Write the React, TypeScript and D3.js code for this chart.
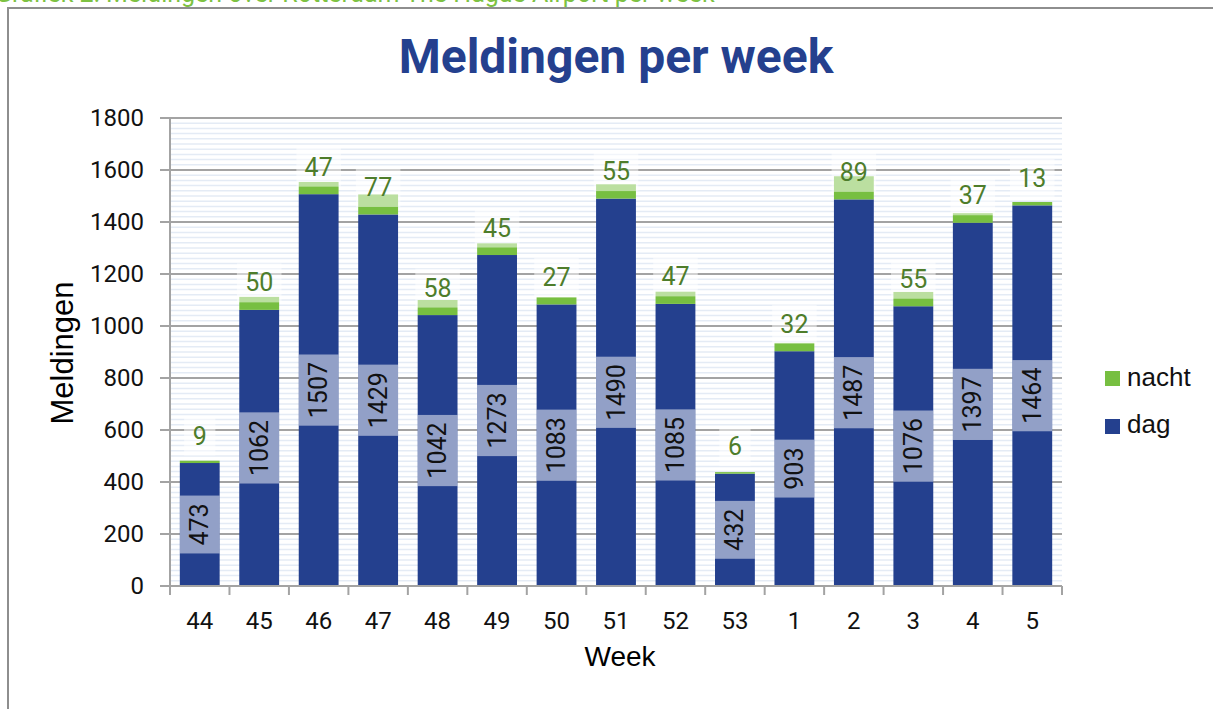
import * as d3 from "d3";

const weeks = ["44", "45", "46", "47", "48", "49", "50", "51", "52", "53", "1", "2", "3", "4", "5"];
const dag = [473, 1062, 1507, 1429, 1042, 1273, 1083, 1490, 1085, 432, 903, 1487, 1076, 1397, 1464];
const nacht = [9, 50, 47, 77, 58, 45, 27, 55, 47, 6, 32, 89, 55, 37, 13];
const yTicks = [0, 200, 400, 600, 800, 1000, 1200, 1400, 1600, 1800];

const W = 1215;
const H = 709;
const plot = { left: 170, right: 1062, top: 118, bottom: 586 };

const BLUE = "#24408e";
const GREEN = "#77bf41";
const GRID = "#a3a3a3";
const MINOR = "#e4ebf5";
const NUM_FONT = "Roboto, 'DejaVu Sans', sans-serif";
const TXT_FONT = "'Liberation Sans', Arial, sans-serif";

export default function App() {
    const x = d3.scaleBand()
        .domain(weeks)
        .range([plot.left, plot.right])
        .paddingInner(0.33)
        .paddingOuter(0.165);

    const y = d3.scaleLinear().domain([0, 1800]).range([plot.bottom, plot.top]);

    const minor = d3.range(0, 1800, 20).filter(v => v % 200 !== 0);
    const step = x.step();
    const bw = x.bandwidth();
    const digitW = 13.3;

    return (
        <div style={{ position: "absolute", left: 0, top: 0 }}>
            <svg width={W} height={H} style={{ display: "block", background: "#fff" }}>
                {/* caption, cut off at the top as in the source */}
                <text x={-5} y={2} fontFamily={NUM_FONT} fontSize={25} fill="#7dc242">
                    Grafiek 2: Meldingen over Rotterdam The Hague Airport per week
                </text>
                {/* frame */}
                <path d={`M8,${H} V8 H1213`} fill="none" stroke="#8e8e8e" strokeWidth={2} />

                <text x={(plot.left + plot.right) / 2} y={73} textAnchor="middle"
                    fontFamily={NUM_FONT} fontWeight="bold" fontSize={48} fill={BLUE}>
                    Meldingen per week
                </text>

                {/* minor gridlines */}
                {minor.map(v => (
                    <line key={"m" + v} x1={plot.left} x2={plot.right} y1={y(v)} y2={y(v)}
                        stroke={MINOR} strokeWidth={1.5} />
                ))}
                {/* major gridlines */}
                {yTicks.map(v => (
                    <line key={"g" + v} x1={plot.left - 10} x2={plot.right} y1={y(v)} y2={y(v)}
                        stroke={GRID} strokeWidth={2} />
                ))}

                {/* bars */}
                {weeks.map((w, i) => (
                    <g key={"b" + w}>
                        <rect x={x(w)} y={y(dag[i])} width={bw} height={y(0) - y(dag[i])} fill={BLUE} />
                        <rect x={x(w)} y={y(dag[i] + nacht[i])} width={bw}
                            height={y(dag[i]) - y(dag[i] + nacht[i])} fill={GREEN} />
                    </g>
                ))}

                {/* axes */}
                <line x1={plot.left} x2={plot.left} y1={plot.top} y2={plot.bottom + 8} stroke={GRID} strokeWidth={2} />
                <line x1={plot.left - 10} x2={plot.right} y1={plot.bottom} y2={plot.bottom} stroke={GRID} strokeWidth={2} />
                {d3.range(weeks.length + 1).map(k => (
                    <line key={"t" + k} x1={plot.left + k * step} x2={plot.left + k * step}
                        y1={plot.bottom} y2={plot.bottom + 9} stroke={GRID} strokeWidth={2} />
                ))}

                {/* dag labels: rotated, semi-transparent box */}
                {weeks.map((w, i) => {
                    const cx = x(w)! + bw / 2;
                    const cy = (y(0) + y(dag[i])) / 2;
                    const len = String(dag[i]).length * digitW + 18;
                    return (
                        <g key={"dl" + w}>
                            <rect x={x(w)} y={cy - len / 2} width={bw} height={len} fill="#fff" opacity={0.5} />
                            <text transform={`translate(${cx},${cy}) rotate(-90)`} textAnchor="middle"
                                dominantBaseline="central" fontFamily={NUM_FONT} fontSize={25} fill="#111">
                                {dag[i]}
                            </text>
                        </g>
                    );
                })}

                {/* nacht labels */}
                {weeks.map((w, i) => {
                    const cx = x(w)! + bw / 2;
                    const bottom = y(dag[i]) - 7.5;
                    const bh = 39;
                    const bwid = String(nacht[i]).length * digitW + 18;
                    return (
                        <g key={"nl" + w}>
                            <rect x={cx - bwid / 2} y={bottom - bh} width={bwid} height={bh} fill="#fff" opacity={0.5} />
                            <text x={cx} y={bottom - bh / 2} textAnchor="middle" dominantBaseline="central"
                                fontFamily={NUM_FONT} fontSize={25} fill="#4e7d2b">
                                {nacht[i]}
                            </text>
                        </g>
                    );
                })}

                {/* tick labels */}
                {yTicks.map(v => (
                    <text key={"yl" + v} x={144} y={y(v)} textAnchor="end" dominantBaseline="central"
                        fontFamily={NUM_FONT} fontSize={24} fill="#111">
                        {v}
                    </text>
                ))}
                {weeks.map(w => (
                    <text key={"xl" + w} x={x(w)! + bw / 2} y={621} textAnchor="middle" dominantBaseline="central"
                        fontFamily={NUM_FONT} fontSize={24} fill="#111">
                        {w}
                    </text>
                ))}

                {/* axis titles */}
                <text transform={`translate(73,353) rotate(-90)`} textAnchor="middle"
                    fontFamily={TXT_FONT} fontSize={31} fill="#000">
                    Meldingen
                </text>
                <text x={(plot.left + plot.right) / 2 + 4} y={666} textAnchor="middle"
                    fontFamily={TXT_FONT} fontSize={28} fill="#000">
                    Week
                </text>

                {/* legend */}
                <rect x={1105} y={371} width={15} height={15} fill={GREEN} />
                <text x={1127} y={386} fontFamily={TXT_FONT} fontSize={26} fill="#111">nacht</text>
                <rect x={1105} y={419} width={15} height={15} fill={BLUE} />
                <text x={1127} y={433} fontFamily={TXT_FONT} fontSize={26} fill="#111">dag</text>
            </svg>
        </div>
    );
}
